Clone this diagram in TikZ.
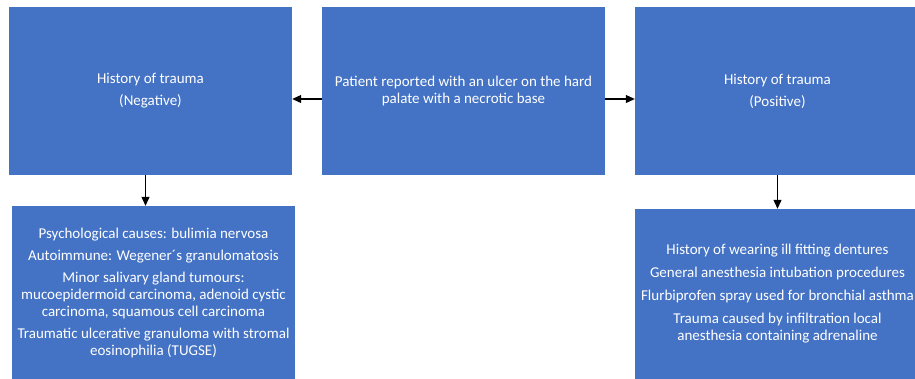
\documentclass[tikz,border=0pt]{standalone}
\usepackage{fontspec}
\setmainfont{Carlito}
\usepackage{tikz}
\usetikzlibrary{positioning, arrows.meta}
\definecolor{boxblue}{HTML}{4472C4}
\tikzset{
  bluebox/.style={fill=boxblue, draw=none, text=white, align=center,
    font=\fontsize{15}{17}\selectfont, inner sep=0pt},
  flowarrow/.style={line width=1.1pt, -{Triangle[length=9pt,width=8pt]}}
}

\begin{document}
\begin{tikzpicture}[x=1pt, y=-1pt]
  \clip (0,0) rectangle (915,378);
  \fill[white] (0,0) rectangle (915,378);
  % top row
  \node[bluebox, minimum width=283pt, minimum height=168pt] (ulcer) at (463.5,91)
    {Patient reported with an ulcer on the hard\\palate with a necrotic base};
  \node[bluebox, minimum width=283pt, minimum height=168pt] (neg) at (150.5,91)
    {History of trauma\\[5pt](Negative)};
  \node[bluebox, minimum width=285pt, minimum height=168pt] (pos) at (777.5,91)
    {History of trauma\\[5pt](Positive)};
  % bottom row, runs off the lower edge
  \node[bluebox, minimum width=283pt, minimum height=174pt] (negcauses) at (153.5,293)
    {Psychological causes: bulimia nervosa\\[5pt]
     Autoimmune: Wegener\textasciiacute s granulomatosis\\[5pt]
     Minor salivary gland tumours:\\
     mucoepidermoid carcinoma, adenoid cystic\\
     carcinoma, squamous cell carcinoma\\[5pt]
     Traumatic ulcerative granuloma with stromal\\
     eosinophilia (TUGSE)};
  \node[bluebox, minimum width=285pt, minimum height=170pt] (poscauses) at (777.5,294)
    {History of wearing ill fitting dentures\\[6pt]
     General anesthesia intubation procedures\\[6pt]
     Flurbiprofen spray used for bronchial asthma\\[6pt]
     Trauma caused by infiltration local\\
     anesthesia containing adrenaline};
  % connectors
  \draw[flowarrow] ([yshift=-8pt]ulcer.west) -- ([yshift=-8pt]neg.east);
  \draw[flowarrow] ([yshift=-8pt]ulcer.east) -- ([yshift=-8pt]pos.west);
  \draw[flowarrow] ([xshift=-5pt]neg.south) -- ([xshift=-5pt]neg.south |- negcauses.north);
  \draw[flowarrow] (pos.south) -- (pos.south |- poscauses.north);
\end{tikzpicture}
\end{document}
